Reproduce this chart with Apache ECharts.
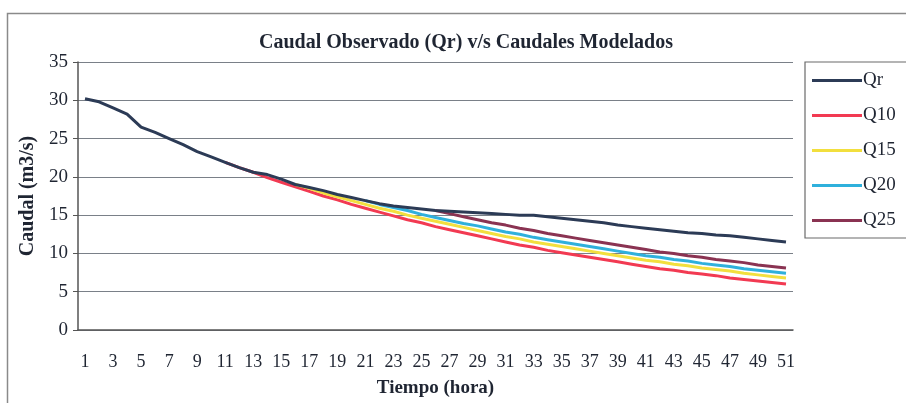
<!DOCTYPE html>
<html>
<head>
<meta charset="utf-8">
<script src="https://cdn.jsdelivr.net/npm/echarts@6/dist/echarts.min.js"></script>
<style>
  html, body { margin: 0; padding: 0; background: #ffffff; }
  #chart { width: 906px; height: 403px; }
</style>
</head>
<body>
<div id="chart"></div>
<script>
// Hours 1..51
const hours = [];
for (let h = 1; h <= 51; h++) hours.push(String(h));

// Observed discharge Qr (m3/s), hours 1..51
const qr = [30.2, 29.8, 29.0, 28.2, 26.5, 25.8, 25.0, 24.2, 23.3, 22.6,
            21.9, 21.2, 20.6, 20.3, 19.7, 19.0, 18.6, 18.2, 17.7, 17.3,
            16.9, 16.5, 16.2, 16.0, 15.8, 15.6, 15.5, 15.4, 15.3, 15.2,
            15.1, 15.0, 15.0, 14.8, 14.6, 14.4, 14.2, 14.0, 13.7, 13.5,
            13.3, 13.1, 12.9, 12.7, 12.6, 12.4, 12.3, 12.1, 11.9, 11.7, 11.5];

// Modelled discharges, each starting at its own hour
const q10Start = 11;
const q10 = [21.9, 21.2, 20.6, 19.9, 19.3, 18.7, 18.1, 17.5, 17.0, 16.4,
             15.9, 15.4, 14.9, 14.4, 14.0, 13.5, 13.1, 12.7, 12.3, 11.9,
             11.5, 11.1, 10.8, 10.4, 10.1, 9.8, 9.5, 9.2, 8.9, 8.6,
             8.3, 8.0, 7.8, 7.5, 7.3, 7.1, 6.8, 6.6, 6.4, 6.2, 6.0];

const q15Start = 16;
const q15 = [19.0, 18.5, 17.9, 17.4, 16.9, 16.4, 15.9, 15.5, 15.0, 14.6,
             14.2, 13.8, 13.4, 13.0, 12.6, 12.2, 11.9, 11.5, 11.2, 10.9,
             10.6, 10.3, 10.0, 9.7, 9.4, 9.1, 8.9, 8.6, 8.4, 8.1,
             7.9, 7.7, 7.4, 7.2, 7.0, 6.8];

const q20Start = 21;
const q20 = [16.9, 16.4, 16.0, 15.6, 15.1, 14.7, 14.3, 13.9, 13.6, 13.2,
             12.8, 12.5, 12.1, 11.8, 11.5, 11.2, 10.9, 10.6, 10.3, 10.0,
             9.7, 9.5, 9.2, 9.0, 8.7, 8.5, 8.3, 8.0, 7.8, 7.6, 7.4];

const q25Start = 26;
const q25 = [15.6, 15.2, 14.8, 14.4, 14.0, 13.7, 13.3, 13.0, 12.6, 12.3,
             12.0, 11.7, 11.4, 11.1, 10.8, 10.5, 10.2, 10.0, 9.7, 9.5,
             9.2, 9.0, 8.8, 8.5, 8.3, 8.1];

const yTicks = [0, 5, 10, 15, 20, 25, 30, 35];

// Place a series that begins at a later hour onto the full hour axis
function pad(start, values) {
  const out = [];
  for (let i = 1; i < start; i++) out.push(null);
  return out.concat(values);
}

const serif = '"Liberation Serif", "DejaVu Serif", serif';
const ink = '#1f2532';

const chart = echarts.init(document.getElementById('chart'));

function line(name, data, color, z) {
  return {
    name: name,
    type: 'line',
    data: data,
    symbol: 'none',
    z: z,
    lineStyle: { color: color, width: 3 },
    itemStyle: { color: color }
  };
}

chart.setOption({
  animation: false,
  backgroundColor: '#ffffff',
  title: {
    text: 'Caudal Observado (Qr) v/s Caudales Modelados',
    left: 461,
    top: 28,
    textAlign: 'center',
    textStyle: { fontFamily: serif, fontWeight: 'bold', fontSize: 20, color: ink }
  },
  graphic: [
    {
      type: 'rect',
      shape: { x: 7.5, y: 13.5, width: 910, height: 400 },
      style: { fill: 'none', stroke: '#8a8a8a', lineWidth: 1.5 },
      silent: true
    }
  ],
  legend: {
    orient: 'vertical',
    left: 805,
    top: 62,
    itemWidth: 50,
    itemHeight: 3,
    itemGap: 16,
    icon: 'rect',
    padding: [9, 40, 8, 7],
    borderColor: '#6a6a6a',
    borderWidth: 1.2,
    textStyle: { fontFamily: serif, fontSize: 19, color: ink, padding: [0, 0, 0, -4] },
    data: ['Qr', 'Q10', 'Q15', 'Q20', 'Q25']
  },
  grid: { left: 78, right: 113, top: 62, bottom: 72, containLabel: false },
  xAxis: {
    type: 'category',
    data: hours,
    boundaryGap: true,
    name: 'Tiempo (hora)',
    nameLocation: 'middle',
    nameGap: 49,
    nameTextStyle: { fontFamily: serif, fontWeight: 'bold', fontSize: 19, color: ink },
    axisLine: { lineStyle: { color: '#555', width: 1.5 } },
    axisTick: { interval: 0, length: 5, lineStyle: { color: '#555' } },
    axisLabel: { interval: 1, margin: 23, fontFamily: serif, fontSize: 18, color: ink },
    splitLine: { show: false }
  },
  yAxis: {
    type: 'value',
    min: 0,
    max: 35,
    interval: 5,
    name: 'Caudal (m3/s)',
    nameLocation: 'middle',
    nameGap: 39,
    nameTextStyle: { fontFamily: serif, fontWeight: 'bold', fontSize: 20, color: ink },
    axisLine: { show: true, lineStyle: { color: '#555', width: 1.5 } },
    axisTick: { show: true, length: 5, lineStyle: { color: '#555' } },
    axisLabel: {
      margin: 10, fontFamily: serif, fontSize: 19, color: ink,
      formatter: v => (yTicks.indexOf(v) >= 0 ? String(v) : '')
    },
    splitLine: { show: true, lineStyle: { color: '#7a8088', width: 1.2 } }
  },
  series: [
    line('Qr', qr, '#2c3b56', 6),
    line('Q10', pad(q10Start, q10), '#f23a52', 2),
    line('Q15', pad(q15Start, q15), '#f2df3e', 3),
    line('Q20', pad(q20Start, q20), '#2fb0dc', 4),
    line('Q25', pad(q25Start, q25), '#8a3352', 5)
  ]
});
</script>
</body>
</html>
